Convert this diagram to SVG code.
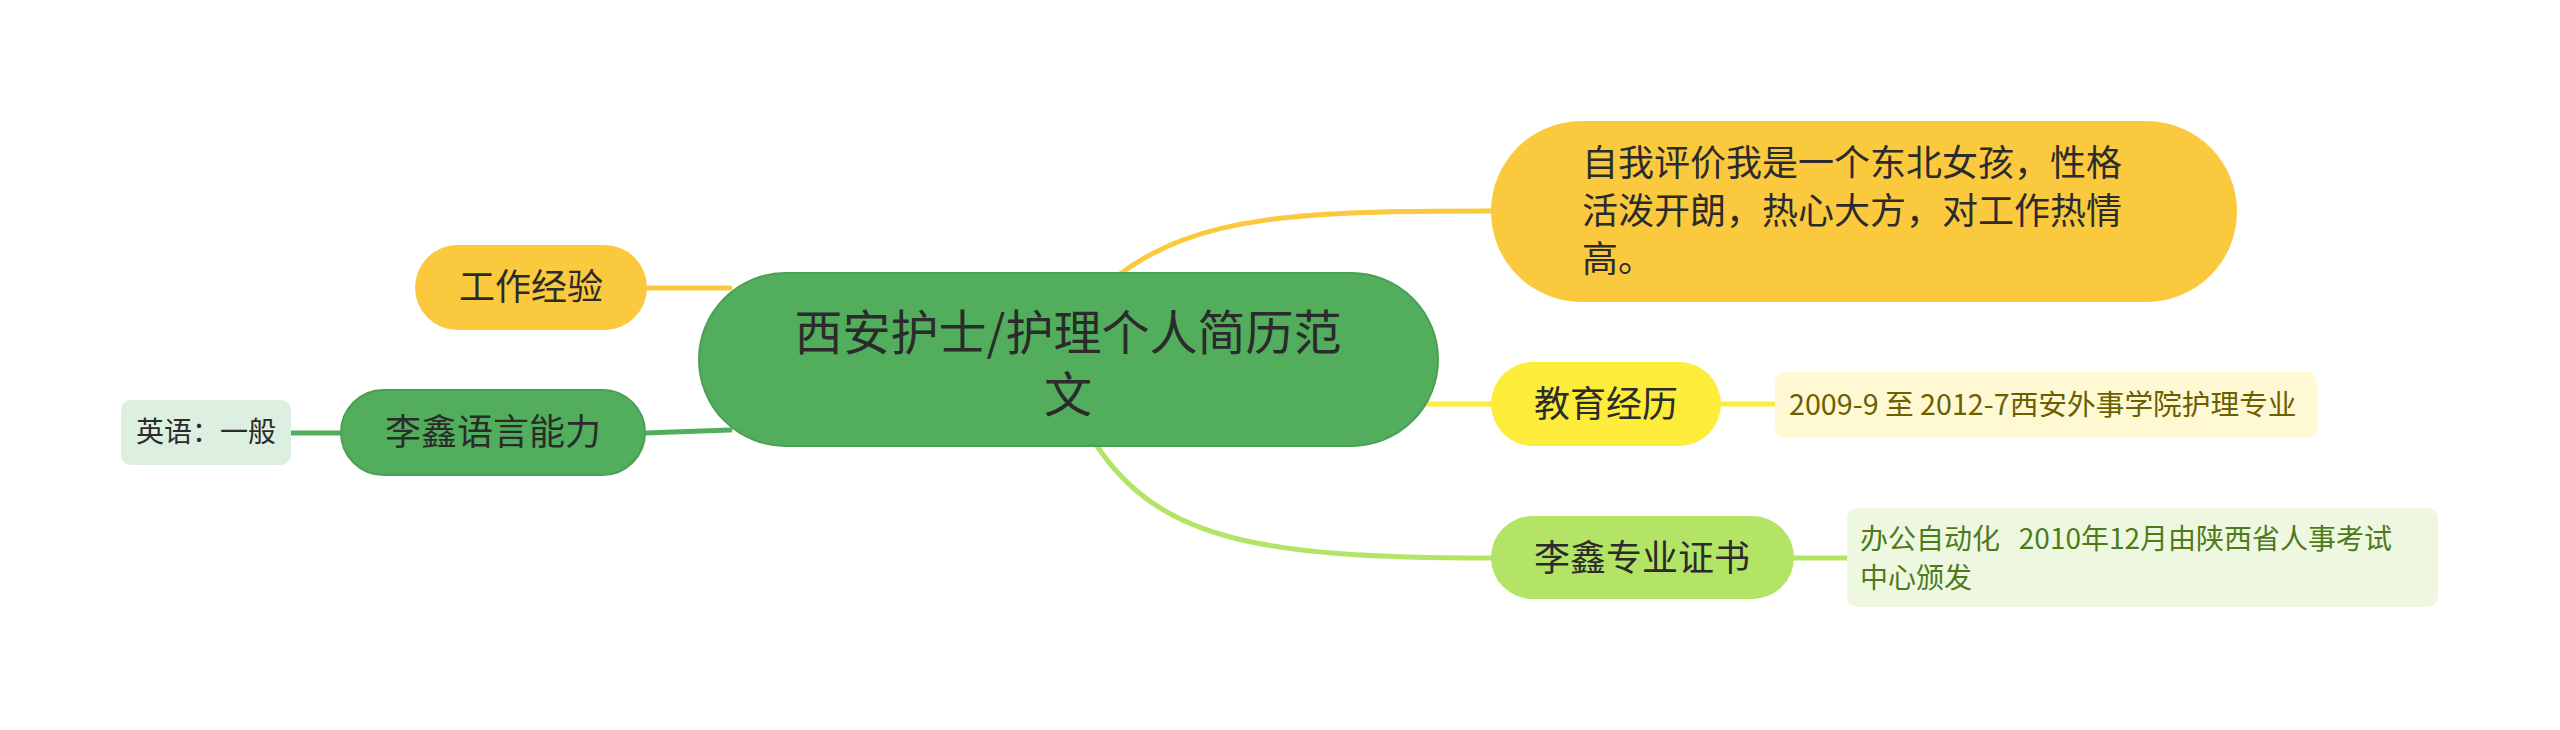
<svg xmlns="http://www.w3.org/2000/svg" width="2560" height="730" viewBox="0 0 2560 730">
<style>
text{font-family:"Noto Sans CJK SC","Noto Sans",sans-serif;fill:#2b2b2b}
.c{text-anchor:middle}
.t36{font-size:36px}
.t28{font-size:28px}
.line{fill:none;stroke-width:5;stroke-linecap:round}
</style>
<rect width="2560" height="730" fill="#ffffff"/>
<g id="connectors">
<path class="line" stroke="#FBC93D" d="M647,288 L730,288"/>
<path class="line" stroke="#52AE5D" d="M645,433 L730,430"/>
<path class="line" stroke="#52AE5D" d="M291,433 L341,433"/>
<path class="line" stroke="#FBC93D" d="M1120,274 C1200,215 1300,211 1491,211"/>
<path class="line" stroke="#FDEC3A" d="M1420,404 L1491,404"/>
<path class="line" stroke="#B3E466" d="M1097,446 C1160,540 1260,558 1491,558"/>
<path class="line" stroke="#FDEC3A" d="M1721,404 L1775,404"/>
<path class="line" stroke="#B3E466" d="M1794,558 L1847,558"/>
</g>
<g id="root">
<rect x="699" y="273" width="739" height="173" rx="86.5" fill="#52AE5D" stroke="#48A052" stroke-width="2"/>
<text class="c" x="1068" y="350" font-size="48">西安护士/护理个人简历范</text>
<text class="c" x="1068" y="412" font-size="48">文</text>
</g>
<g id="n-self">
<rect x="1491" y="121" width="746" height="181" rx="90.5" fill="#FBC93D"/>
<text class="t36" x="1582" y="176">自我评价我是一个东北女孩，性格</text>
<text class="t36" x="1582" y="224">活泼开朗，热心大方，对工作热情</text>
<text class="t36" x="1582" y="272">高。</text>
</g>
<g id="n-edu">
<rect x="1491" y="362" width="230" height="84" rx="42" fill="#FDEC3A"/>
<text class="c t36" x="1606" y="417">教育经历</text>
</g>
<g id="n-edu-detail">
<rect x="1775" y="372" width="542" height="66" rx="10" fill="#FFF9D3"/>
<text x="1789" y="415" font-size="28.7" style="fill:#6B5F00">2009-9 至 2012-7西安外事学院护理专业</text>
</g>
<g id="n-cert">
<rect x="1491" y="516" width="303" height="83" rx="41.5" fill="#B3E466"/>
<text class="c t36" x="1642" y="571">李鑫专业证书</text>
</g>
<g id="n-cert-detail">
<rect x="1847" y="508" width="591" height="99" rx="10" fill="#EEF8E1"/>
<text class="t28" x="1860" y="549" xml:space="preserve" style="fill:#4E7A1C;white-space:pre">办公自动化   2010年12月由陕西省人事考试</text>
<text class="t28" x="1860" y="588" style="fill:#4E7A1C">中心颁发</text>
</g>
<g id="n-work">
<rect x="415" y="245" width="232" height="85" rx="42.5" fill="#FBC93D"/>
<text class="c t36" x="531" y="300">工作经验</text>
</g>
<g id="n-lang">
<rect x="341" y="390" width="304" height="85" rx="42.5" fill="#52AE5D" stroke="#48A052" stroke-width="2"/>
<text class="c t36" x="493" y="445">李鑫语言能力</text>
</g>
<g id="n-lang-detail">
<rect x="121" y="400" width="170" height="65" rx="10" fill="#DDEFE0"/>
<text class="c t28" x="206" y="442">英语：一般</text>
</g>
</svg>
